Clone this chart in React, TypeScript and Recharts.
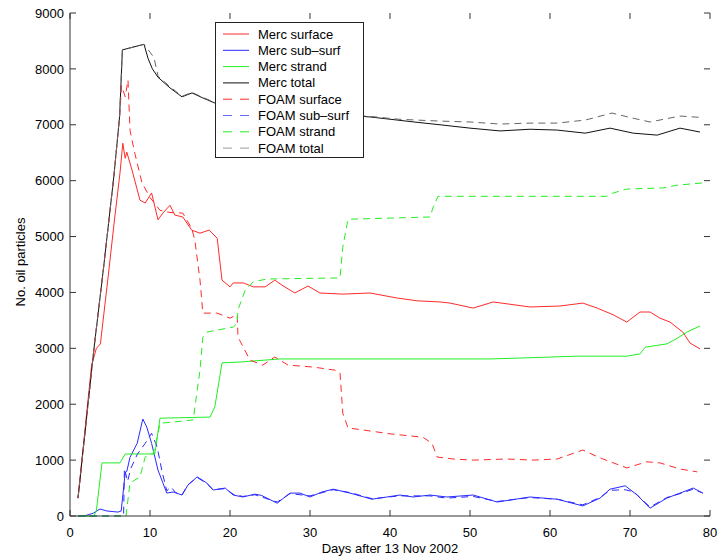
import React from 'react';
import { LineChart, Line, XAxis, YAxis, ReferenceLine } from 'recharts';

// [day, particles]
const mercSurface: [number, number][] = [
  [1, 320], [2.7, 2700], [3.3, 3000], [3.8, 3080], [4.75, 4260], [5.6, 5350], [6.25, 6140], [6.6, 6670],
  [6.9, 6400], [7.1, 6510], [7.75, 6190], [8.75, 5650], [9.4, 5600], [10.2, 5780], [11, 5300], [11.6, 5420],
  [12.5, 5560], [13.1, 5385], [14.1, 5350], [15.2, 5116], [16.25, 5060], [17.4, 5116], [18.4, 4970], [19, 4220],
  [20, 4100], [20.4, 4170], [21.7, 4170], [22.9, 4100], [24.4, 4100], [25.6, 4220], [26.5, 4130], [28.1, 3990],
  [29.75, 4115], [31.25, 3990], [34.1, 3970], [37.5, 3990], [40.9, 3900], [43.4, 3850], [46.25, 3830], [47.5, 3810],
  [50.4, 3720], [52.9, 3830], [57.5, 3740], [61.25, 3757], [64.1, 3810], [65.9, 3720], [67.9, 3600], [69.6, 3470],
  [71.25, 3650], [72.5, 3650], [73.75, 3540], [75, 3470], [76.6, 3290], [77.5, 3095], [78.75, 2990],
];

const mercSubSurf: [number, number][] = [
  [1, 0], [2, 10], [2.9, 50], [3.75, 125], [4.6, 90], [6, 70], [6.4, 90], [6.9, 770], [7.1, 800], [7.5, 1050],
  [8.4, 1300], [9.1, 1735], [9.6, 1590], [10.2, 1300], [11, 820], [12.1, 410], [12.9, 430], [14, 375], [14.75, 555],
  [15.9, 700], [17.1, 590], [17.9, 465], [19.4, 500], [20.4, 375], [21.6, 340], [23.1, 390], [23.9, 370], [25.9, 230],
  [27.5, 410], [28.75, 410], [30, 340], [31.5, 430], [32.9, 480], [35, 410], [37.75, 300], [39.6, 340], [41.25, 375],
  [42.9, 340], [45, 375], [47.1, 340], [50.4, 375], [53.4, 250], [57.5, 340], [60.9, 300], [64.1, 180], [66.25, 320],
  [67.5, 480], [69.4, 540], [70.9, 375], [72.5, 140], [74.6, 320], [76.25, 410], [77.9, 500], [79.1, 410],
];

const mercStrand: [number, number][] = [
  [1, 0], [3, 0], [3.3, 100], [4, 950], [6.25, 950], [6.9, 1110], [10.6, 1110], [11.25, 1750], [17.5, 1770],
  [18.1, 1950], [19, 2740], [21.25, 2755], [26.25, 2810], [52.5, 2810], [57, 2830], [63.4, 2860], [69.6, 2860],
  [71.25, 2900], [71.9, 3020], [74.6, 3080], [75.9, 3180], [77.1, 3290], [78.75, 3400],
];

const mercTotal: [number, number][] = [
  [1, 320], [3, 3000], [4.2, 4450], [5.5, 6100], [6.2, 7150], [6.55, 8340], [9.25, 8440], [9.75, 8190], [10.3, 8000],
  [11, 7850], [12.5, 7660], [14, 7500], [15.25, 7570], [16.6, 7480], [18.1, 7390], [25, 7260], [37.5, 7140],
  [43, 7050], [46.25, 7000], [50, 6940], [53.75, 6890], [57.5, 6920], [60.9, 6905], [64.4, 6850], [67.5, 6940],
  [70.4, 6850], [73.4, 6815], [76.25, 6940], [78.75, 6870],
];

const foamSurface: [number, number][] = [
  [1, 320], [3, 3000], [4.2, 4450], [5.5, 6100], [6.2, 7150], [6.45, 7700], [6.9, 7500], [7.25, 7800], [7.5, 6900],
  [8.1, 6490], [9, 5960], [10, 5700], [11.25, 5470], [12.5, 5430], [14.1, 5420], [15.2, 5150], [15.6, 4940],
  [16.25, 4220], [16.5, 3810], [16.6, 3630], [18.4, 3630], [20, 3540], [20.9, 3600], [21, 3200], [22.5, 2790],
  [24.1, 2700], [25.6, 2845], [27.25, 2700], [30.4, 2665], [33.1, 2610], [33.75, 2560], [34.1, 1840], [34.75, 1575],
  [36.6, 1540], [40, 1470], [44.1, 1410], [45.25, 1300], [45.9, 1055], [47.9, 1020], [50.4, 1000], [54.6, 1020],
  [57.9, 1000], [60.9, 1020], [64.1, 1180], [66.25, 1040], [69.6, 860], [72.1, 970], [73.75, 950], [76.25, 840],
  [78.4, 790],
];

const foamSubSurf: [number, number][] = [
  [1, 0], [6.7, 0], [6.8, 850], [7.2, 620], [7.6, 850], [8.4, 1100], [9.4, 1300], [10.2, 1480], [10.9, 1230],
  [11.5, 800], [12.1, 450], [12.6, 520], [13.2, 420], [14, 380], [14.75, 560], [15.9, 690], [17.1, 580], [17.9, 470],
  [19.4, 490], [20.4, 390], [21.6, 350], [23.1, 380], [25.9, 250], [27.5, 400], [30, 360], [32.9, 470], [35, 420],
  [37.75, 310], [41.25, 360], [45, 360], [47.1, 320], [50.4, 350], [53.4, 260], [57.5, 330], [60.9, 300], [64.1, 200],
  [66.25, 330], [67.5, 460], [69.4, 470], [70.5, 430], [72.5, 160], [74.6, 330], [76.25, 400], [77.9, 480], [79.1, 410],
];

const foamStrand: [number, number][] = [
  [1, 0], [7, 0], [7.5, 590], [8.75, 700], [9.4, 1055], [10.4, 1120], [10.9, 1410], [11.25, 1660], [12.9, 1680],
  [15.4, 1720], [16.25, 2610], [16.6, 3200], [17.1, 3290], [19.6, 3360], [20.4, 3380], [20.9, 3450], [21, 3690],
  [21.9, 4040], [22.9, 4190], [24.6, 4240], [33.75, 4260], [34.1, 4810], [34.75, 5310], [45, 5350], [45.4, 5530],
  [46, 5720], [67.1, 5720], [67.9, 5780], [69.6, 5850], [74.1, 5870], [75.9, 5920], [79.1, 5960],
];

const foamTotal: [number, number][] = [
  [1, 320], [3, 3000], [4.2, 4450], [5.5, 6100], [6.2, 7150], [6.55, 8340], [9.25, 8440], [10, 8300], [10.5, 8200],
  [11, 7870], [12.5, 7680], [14, 7510], [15.25, 7580], [16.6, 7490], [18.1, 7400], [25, 7270], [37.5, 7150],
  [41, 7100], [44, 7080], [46.25, 7066], [50, 7050], [53.75, 7013], [57.5, 7030], [60.9, 7030], [64.4, 7084],
  [67.75, 7210], [70, 7130], [72.5, 7050], [76.25, 7156], [79, 7130],
];

const xTicks = [0, 10, 20, 30, 40, 50, 60, 70, 80];
const yTicks = [0, 1000, 2000, 3000, 4000, 5000, 6000, 7000, 8000, 9000];

const series = [
  { name: 'Merc surface', data: mercSurface, color: '#ff2a2a', dashed: false },
  { name: 'Merc sub\u2013surf', data: mercSubSurf, color: '#2a2aff', dashed: false },
  { name: 'Merc strand', data: mercStrand, color: '#22ee22', dashed: false },
  { name: 'Merc total', data: mercTotal, color: '#111111', dashed: false },
  { name: 'FOAM surface', data: foamSurface, color: '#ff2a2a', dashed: true },
  { name: 'FOAM sub\u2013surf', data: foamSubSurf, color: '#2a2aff', dashed: true },
  { name: 'FOAM strand', data: foamStrand, color: '#22ee22', dashed: true },
  { name: 'FOAM total', data: foamTotal, color: '#666666', dashed: true },
];

const font = '"Liberation Sans", Arial, Helvetica, sans-serif';
const axisColor = '#333';
// inward tick length in data units (about 6px)
const xTickLen = 0.75;
const yTickLen = 107;

const toPoints = (pts: [number, number][]) => pts.map(([day, value]) => ({ day, value }));

const tickStyle = { fontSize: 13, fill: '#000', fontFamily: font };

export default function App() {
  return (
    <div style={{ position: 'fixed', left: 0, top: 0, width: 719, height: 557, fontFamily: font, background: '#fff' }}>
      <LineChart width={719} height={557} margin={{ top: 13, right: 9, bottom: 0, left: 0 }}>
        <XAxis
          xAxisId="b"
          dataKey="day"
          type="number"
          domain={[0, 80]}
          ticks={xTicks}
          height={41}
          tickLine={false}
          tickSize={0}
          tickMargin={12}
          tick={tickStyle}
          stroke={axisColor}
        />
        <XAxis xAxisId="t" orientation="top" type="number" domain={[0, 80]} height={0} tick={false} tickLine={false} stroke={axisColor} />
        <YAxis
          yAxisId="l"
          type="number"
          domain={[0, 9000]}
          ticks={yTicks}
          width={70}
          tickLine={false}
          tickSize={0}
          tickMargin={6}
          tick={tickStyle}
          stroke={axisColor}
        />
        <YAxis yAxisId="r" orientation="right" type="number" domain={[0, 9000]} width={0} tick={false} tickLine={false} stroke={axisColor} />

        {/* inward tick marks on all four sides */}
        {xTicks.map((t) => (
          <ReferenceLine key={`xb${t}`} xAxisId="b" yAxisId="l" segment={[{ x: t, y: 0 }, { x: t, y: yTickLen }]} stroke={axisColor} />
        ))}
        {xTicks.map((t) => (
          <ReferenceLine key={`xt${t}`} xAxisId="b" yAxisId="l" segment={[{ x: t, y: 9000 }, { x: t, y: 9000 - yTickLen }]} stroke={axisColor} />
        ))}
        {yTicks.map((t) => (
          <ReferenceLine key={`yl${t}`} xAxisId="b" yAxisId="l" segment={[{ x: 0, y: t }, { x: xTickLen, y: t }]} stroke={axisColor} />
        ))}
        {yTicks.map((t) => (
          <ReferenceLine key={`yr${t}`} xAxisId="b" yAxisId="l" segment={[{ x: 80, y: t }, { x: 80 - xTickLen, y: t }]} stroke={axisColor} />
        ))}

        {series.map((s) => (
          <Line
            key={s.name}
            xAxisId="b"
            yAxisId="l"
            data={toPoints(s.data)}
            dataKey="value"
            type="linear"
            stroke={s.color}
            strokeWidth={1}
            strokeDasharray={s.dashed ? '7 5' : undefined}
            dot={false}
            activeDot={false}
            isAnimationActive={false}
          />
        ))}
      </LineChart>

      {/* legend box */}
      <div
        style={{
          position: 'absolute',
          left: 215,
          top: 22,
          width: 147,
          height: 134,
          border: '1px solid #222',
          background: '#fff',
        }}
      >
        <svg width={147} height={134}>
          {series.map((s, i) => {
            const y = 11 + i * 16.3;
            return (
              <g key={s.name}>
                <line
                  x1={7}
                  x2={33}
                  y1={y}
                  y2={y}
                  stroke={s.name === 'FOAM total' ? '#999' : s.name === 'FOAM sub\u2013surf' ? '#6a6aff' : s.color}
                  strokeWidth={1}
                  strokeDasharray={s.dashed ? '9 8' : undefined}
                />
                <text x={42} y={y + 4.5} fontSize={13} fontFamily={font} fill="#000">
                  {s.name}
                </text>
              </g>
            );
          })}
        </svg>
      </div>

      <div
        style={{
          position: 'absolute',
          left: 20,
          top: 262,
          transform: 'translate(-50%, -50%) rotate(-90deg)',
          fontSize: 13,
          whiteSpace: 'nowrap',
        }}
      >
        No. oil particles
      </div>
      <div
        style={{
          position: 'absolute',
          left: 390,
          top: 548,
          transform: 'translate(-50%, -50%)',
          fontSize: 13,
          whiteSpace: 'nowrap',
        }}
      >
        Days after 13 Nov 2002
      </div>
    </div>
  );
}
